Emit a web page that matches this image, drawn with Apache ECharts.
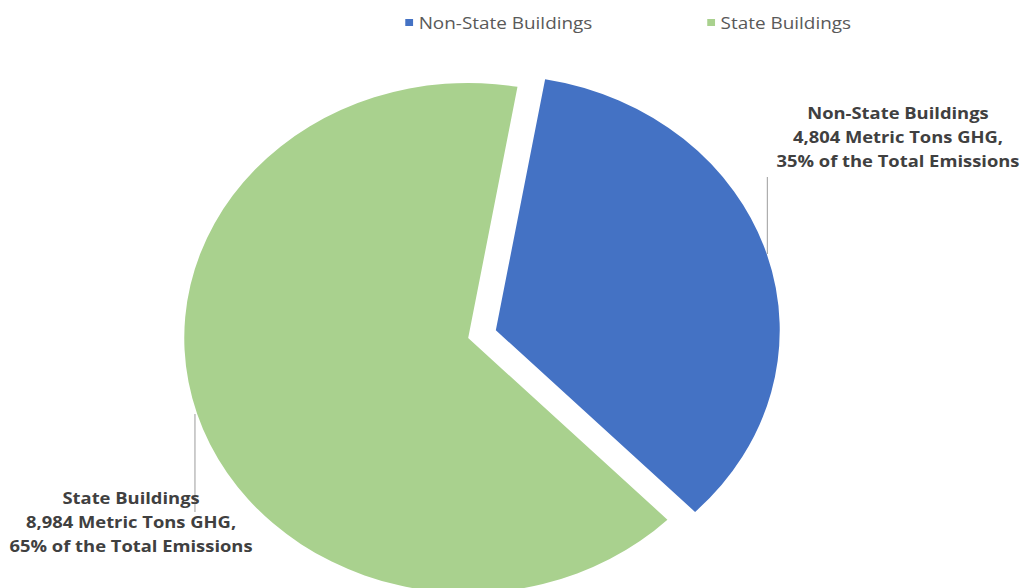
<!DOCTYPE html>
<html>
<head>
<meta charset="utf-8">
<script src="https://cdn.jsdelivr.net/npm/echarts@6/dist/echarts.min.js"></script>
<style>
  html, body { margin: 0; padding: 0; background: #ffffff; overflow: hidden; }
  /* The chart is laid out narrower and widened so the pie reads as a wide oval */
  #chart { width: 917px; height: 588px; transform: scaleX(1.1134); transform-origin: 0 0; }
</style>
</head>
<body>
<div id="chart"></div>
<script>
// Emissions split by building type (metric tons GHG)
const categories = ['Non-State Buildings', 'State Buildings'];
const emissions = [4804, 8984];
const colors = ['#4472C4', '#A9D18E'];

const total = emissions.reduce((a, b) => a + b, 0);

const chart = echarts.init(document.getElementById('chart'), null, { renderer: 'svg' });

// Pie geometry: the Non-State slice is pulled out along its mid-angle
const pieCenter = [420.5, 338];
const pieRadius = 255;
const startAngle = 80;
const explode = 26;

const midAngleDeg = startAngle - (emissions[0] / total) * 180; // ECharts angle convention
const midRad = midAngleDeg * Math.PI / 180;
const explodedCenter = [
  pieCenter[0] + explode * Math.cos(midRad),
  pieCenter[1] - explode * Math.sin(midRad)
];

const labelText = (name, value) => name + '\n' +
  value.toLocaleString('en-US') + ' Metric Tons GHG,\n' +
  Math.round(value / total * 100) + '% of the Total Emissions';

const labelStyle = {
  fontFamily: '"Open Sans", sans-serif',
  fontWeight: 'bold',
  fontSize: 16.5,
  color: '#404040',
  lineHeight: 24,
  align: 'center'
};

// Each slice is drawn by its own pie series; the other slice in that series is left blank
function sliceSeries(showIndex, center, labelPos, linePoints) {
  return {
    type: 'pie',
    center: center,
    radius: pieRadius,
    startAngle: startAngle,
    clockwise: true,
    silent: true,
    avoidLabelOverlap: false,
    emphasis: { disabled: true },
    data: categories.map((name, i) => ({
      name: name,
      value: emissions[i],
      itemStyle: { color: i === showIndex ? colors[i] : 'rgba(0,0,0,0)' },
      label: i === showIndex
        ? Object.assign({ show: true, position: 'outside', formatter: labelText(name, emissions[i]) }, labelStyle)
        : { show: false },
      labelLine: i === showIndex
        ? { show: true, lineStyle: { color: '#A6A6A6', width: 1 } }
        : { show: false }
    })),
    labelLayout: function (params) {
      if (params.dataIndex !== showIndex) return {};
      return {
        x: labelPos[0], y: labelPos[1], align: 'center', verticalAlign: 'middle',
        labelLinePoints: linePoints
      };
    }
  };
}

chart.setOption({
  animation: false,
  backgroundColor: '#ffffff',
  legend: {
    data: categories.map((name, i) => ({ name: name, itemStyle: { color: colors[i] } })),
    top: 9,
    left: 359,
    icon: 'rect',
    itemWidth: 7,
    itemHeight: 7,
    itemGap: 103,
    textStyle: {
      fontFamily: '"Open Sans", sans-serif',
      fontSize: 17,
      color: '#595959'
    }
  },
  series: [
    sliceSeries(0, explodedCenter, [806.5, 136],
      [[689.2, 254], [689.2, 177], [689.2, 177]]),
    sliceSeries(1, pieCenter, [117.7, 521],
      [[175.1, 414], [175.1, 512], [175.1, 512]])
  ]
});
</script>
</body>
</html>
